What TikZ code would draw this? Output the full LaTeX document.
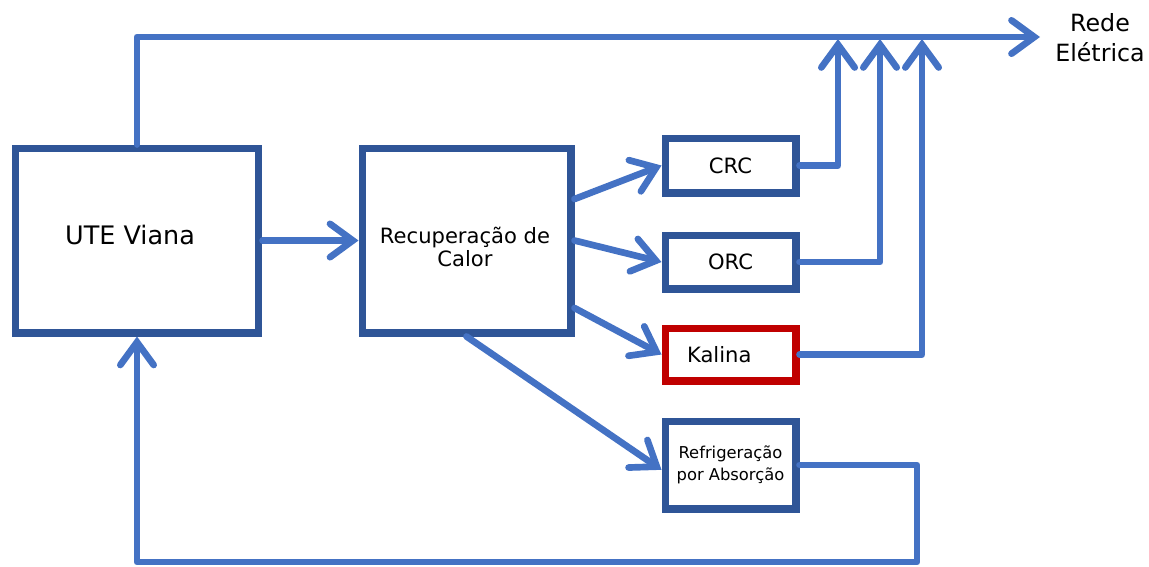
\documentclass[tikz,border=0pt]{standalone}
\usepackage{fontspec}
\setmainfont{DejaVu Sans}
\usetikzlibrary{arrows.meta}
\definecolor{boxblue}{HTML}{2F5597}
\definecolor{flowblue}{HTML}{4472C4}
\definecolor{boxred}{HTML}{C00000}
\begin{document}
\begin{tikzpicture}[x=0.02cm,y=-0.02cm,
	unit/.style={draw=boxblue,line width=4pt,fill=white,align=center,inner sep=2pt},
	flow/.style={draw=flowblue,line width=3.8pt,line cap=round,line join=round,
		-{Straight Barb[length=13pt,width=19pt,line cap=round]}}]
		\useasboundingbox (0,0) rectangle (1149,566);
		
		% blocos
		\node[unit,minimum width=4.88cm,minimum height=3.7cm] (ute) at (137,240.5) {};
		\node[font=\fontsize{14.5}{17}\selectfont] (utetxt) at (130,235) {UTE Viana};
		\node[unit,minimum width=4.18cm,minimum height=3.7cm] (recup) at (466.5,240.5) {};
		\node[align=center,font=\fontsize{12}{13.6}\selectfont] (recuptxt) at (465,247) {Recuperação de\\Calor};
		\node[unit,minimum width=2.62cm,minimum height=1.1cm,font=\fontsize{12}{14}\selectfont] (crc) at (730.5,165.5) {CRC};
		\node[unit,minimum width=2.62cm,minimum height=1.08cm,font=\fontsize{12}{14}\selectfont] (orc) at (730.5,262) {ORC};
		\node[unit,draw=boxred,minimum width=2.62cm,minimum height=1.06cm,font=\fontsize{12}{14}\selectfont] (kalina) at (730.5,354.5) {\hspace*{-0.45cm}Kalina};
		\node[unit,minimum width=2.62cm,minimum height=1.76cm,font=\fontsize{9.3}{12.8}\selectfont] (refr) at (730.5,465) {Refrigeração\\por Absorção};
		\node[align=center,inner sep=0pt,font=\fontsize{13.5}{17}\selectfont] (rede) at (1100,38) {Rede\\Elétrica};
		
		% pontos da rede
		\coordinate (tip) at (1040,37);
		\coordinate (j1) at (838,39);
		\coordinate (j2) at (880,39);
		\coordinate (j3) at (922,39);
		\coordinate (ret) at (917,562);
		
		% ligacoes
		\draw[flow] (ute.north) |- (tip);
		\draw[flow] (ute) -- (recup);
		\draw[flow] (recup.21) -- (crc.west);
		\draw[flow] (recup.east) -- (orc.west);
		\draw[flow] (recup.-32) -- (kalina.west);
		\draw[flow] (recup.south) -- (refr.-176);
		\draw[flow] (crc.east) -| (j1);
		\draw[flow] (orc.east) -| (j2);
		\draw[flow] (kalina.east) -| (j3);
		\draw[flow] (refr.east) -| (ret) -| (ute.south);
\end{tikzpicture}
\end{document}
